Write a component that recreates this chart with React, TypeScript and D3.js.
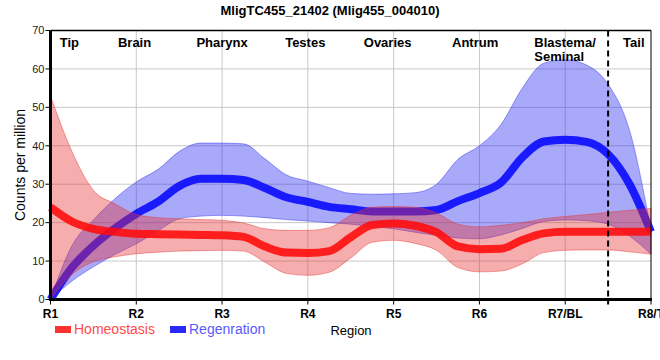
import React from "react";
import * as d3 from "d3";

const positions = [0, 0.25, 0.5, 0.75, 1, 1.25, 1.5, 1.75, 2, 2.25, 2.5, 2.75, 3, 3.25, 3.5, 3.75, 4, 4.25, 4.5, 4.75, 5, 5.25, 5.5, 5.75, 6, 6.25, 6.5, 6.75, 7];

const homeoMean = [24, 20.3, 18.4, 17.6, 17.1, 17.0, 16.9, 16.8, 16.7, 16.3, 13.8, 12.2, 12.1, 12.6, 16.2, 19.4, 19.8, 19.2, 17.5, 13.8, 13.1, 13.2, 15.5, 17.2, 17.6, 17.6, 17.6, 17.6, 17.7];
const homeoUpper = [53, 38.5, 28.4, 24.9, 22.1, 21.3, 21.0, 20.8, 20.6, 19.9, 18.4, 18.0, 18.0, 18.7, 21.9, 24.0, 24.2, 24.0, 22.5, 19.6, 18.9, 19.3, 20.0, 21.0, 21.6, 22.1, 22.7, 23.2, 23.7];
const homeoLower = [0, 6.5, 9.8, 11.1, 11.9, 12.3, 12.6, 12.7, 12.8, 12.6, 9.7, 6.8, 6.3, 7.1, 10.8, 14.9, 15.4, 14.6, 12.8, 8.3, 7.2, 7.4, 9.3, 12.2, 12.8, 12.9, 12.9, 12.4, 11.8];

const regenMean = [0, 8.3, 14, 18.5, 22.3, 25.4, 29.5, 31.4, 31.4, 31.1, 29.0, 26.6, 25.4, 24.1, 23.5, 22.9, 22.9, 22.9, 23.3, 25.6, 27.7, 30.4, 37.0, 41.1, 41.6, 41.0, 37.8, 30.0, 17.6];
const regenUpper = [0, 14, 20.7, 26.2, 30.6, 33.8, 38.5, 40.7, 40.7, 40.5, 36.6, 32.4, 30.8, 29.1, 27.6, 27.4, 27.5, 27.8, 30.0, 36.5, 40.0, 45.5, 55.0, 61.5, 62.4, 61.0, 56.0, 44.0, 18.0];
const regenLower = [0, 4.8, 8.5, 11.7, 14.5, 17.8, 21.0, 21.7, 21.9, 21.7, 21.3, 20.8, 20.4, 20.0, 19.6, 19.0, 18.4, 17.5, 16.7, 16.0, 15.8, 16.8, 18.5, 20.3, 20.7, 20.5, 19.6, 16.5, 11.8];

const xTickLabels = ["R1", "R2", "R3", "R4", "R5", "R6", "R7/BL", "R8/T"];
const yTicks = [0, 10, 20, 30, 40, 50, 60, 70];
const regionNames = ["Tip", "Brain", "Pharynx", "Testes", "Ovaries", "Antrum", "Blastema/|Seminal", "Tail"];
const regionLabelPos = [0.22, 0.98, 2.0, 2.97, 3.93, 4.95, 5.64, 6.8];
const dividerPos = 6.5;
const seriesNames = ["Homeostasis", "Regenration"];

const SANS = "'Liberation Sans', Arial, sans-serif";

export default function App() {
  const x = d3.scaleLinear().domain([0, 7]).range([50.5, 651]);
  const y = d3.scaleLinear().domain([0, 70]).range([299.5, 30.5]);
  const curve = d3.curveMonotoneX;

  const area = (lo: number[], hi: number[]) =>
    d3.area<number>().x((p) => x(p)).y0((_, i) => y(lo[i])).y1((_, i) => y(hi[i])).curve(curve)(positions) || "";
  const line = (v: number[]) =>
    d3.line<number>().x((p) => x(p)).y((_, i) => y(v[i])).curve(curve)(positions) || "";

  const top = y(70);
  const bottom = y(0);

  return (
    <svg width={660} height={360} style={{ position: "absolute", left: 0, top: 0, background: "#fff" }}>
      <text x={330} y={15} textAnchor="middle" fontFamily={SANS} fontWeight="bold" fontSize={13} fill="#000">
        MligTC455_21402 (Mlig455_004010)
      </text>
      {/* grid */}
      {yTicks.slice(1, -1).map((t) => (
        <line key={"h" + t} x1={x(0)} x2={x(7)} y1={y(t)} y2={y(t)} stroke="#c8c8c8" strokeWidth={1} />
      ))}
      {d3.range(1, 7).map((i) => (
        <line key={"v" + i} x1={x(i)} x2={x(i)} y1={top} y2={bottom} stroke="#c8c8c8" strokeWidth={1} />
      ))}
      {/* regeneration band and line */}
      <path d={area(regenLower, regenUpper)} fill="rgba(40,40,240,0.4)" stroke="rgba(40,40,240,0.45)" strokeWidth={1} />
      <path d={line(regenMean)} fill="none" stroke="rgba(10,10,255,0.9)" strokeWidth={8} />
      {/* homeostasis band and line */}
      <path d={area(homeoLower, homeoUpper)} fill="rgba(230,50,50,0.4)" stroke="rgba(230,50,50,0.45)" strokeWidth={1} />
      <path d={line(homeoMean)} fill="none" stroke="rgba(255,10,10,0.88)" strokeWidth={8} />
      {/* frame */}
      <line x1={x(0)} x2={x(7)} y1={top} y2={top} stroke="#000" strokeWidth={1.5} />
      <line x1={x(7)} x2={x(7)} y1={top} y2={bottom} stroke="#000" strokeWidth={1} />
      <line x1={x(0)} x2={x(0)} y1={top} y2={bottom + 1.5} stroke="#000" strokeWidth={3} />
      <line x1={x(0) - 1.5} x2={x(7) + 1} y1={bottom} y2={bottom} stroke="#000" strokeWidth={3} />
      {/* divider */}
      <line x1={x(dividerPos)} x2={x(dividerPos)} y1={top} y2={bottom + 5} stroke="#000" strokeWidth={2} strokeDasharray="6,4" />
      {/* y ticks */}
      {yTicks.map((t) => (
        <g key={"yt" + t}>
          <line x1={x(0) - 5} x2={x(0)} y1={y(t)} y2={y(t)} stroke="#000" strokeWidth={1} />
          <text x={x(0) - 6} y={y(t)} dy="0.35em" textAnchor="end" fontFamily={SANS} fontSize={11} fill="#222">
            {t}
          </text>
        </g>
      ))}
      {/* x ticks */}
      {xTickLabels.map((l, i) => (
        <g key={"xt" + i}>
          <line x1={x(i)} x2={x(i)} y1={bottom} y2={bottom + 5} stroke="#000" strokeWidth={1} />
          <text x={x(i)} y={318} textAnchor="middle" fontFamily={SANS} fontWeight="bold" fontSize={12} fill="#000">
            {l}
          </text>
        </g>
      ))}
      {/* region names */}
      {regionNames.map((n, i) => {
        const parts = n.split("|");
        const multi = parts.length > 1;
        return (
          <text key={"rn" + i} x={x(regionLabelPos[i])} y={47} textAnchor={multi ? "start" : "middle"} fontFamily={SANS} fontWeight="bold" fontSize={13} fill="#000">
            {parts.map((p, j) => (
              <tspan key={j} x={x(regionLabelPos[i])} dy={j === 0 ? 0 : 14}>
                {p}
              </tspan>
            ))}
          </text>
        );
      })}
      {/* axis titles */}
      <text transform={`translate(25,${(top + bottom) / 2}) rotate(-90)`} textAnchor="middle" fontFamily={SANS} fontSize={14} fill="#000">
        Counts per million
      </text>
      <text x={351} y={335} textAnchor="middle" fontFamily={SANS} fontSize={13} fill="#000">
        Region
      </text>
      {/* legend */}
      <rect x={55} y={326} width={16} height={7} fill="#ff3232" />
      <text x={74} y={334} fontFamily={SANS} fontSize={14} fill="#ff4a4a">
        {seriesNames[0]}
      </text>
      <rect x={170} y={326} width={16} height={7} fill="#2828ff" />
      <text x={189} y={334} fontFamily={SANS} fontSize={14} fill="#5a5aff">
        {seriesNames[1]}
      </text>
    </svg>
  );
}
